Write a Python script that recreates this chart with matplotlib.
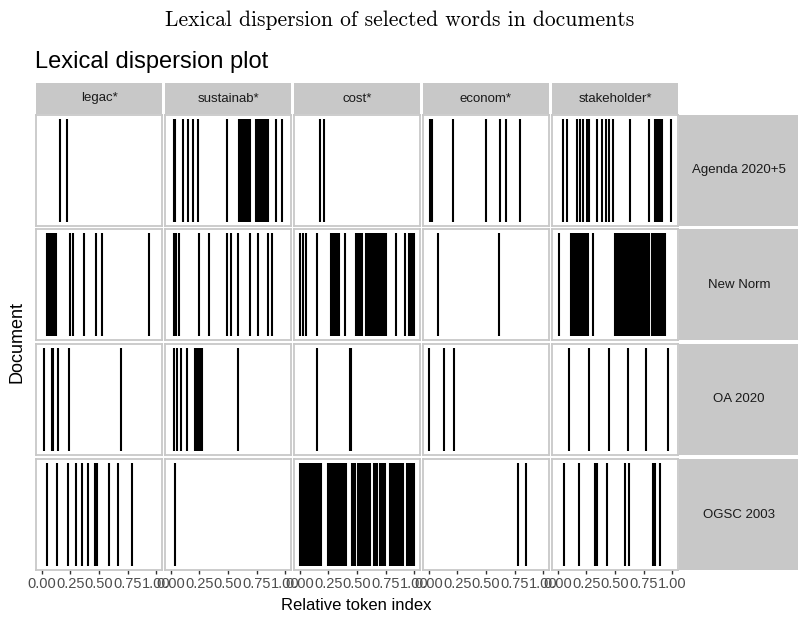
import numpy as np
import matplotlib.pyplot as plt

# words (columns) and documents (rows)
words = ['legac*', 'sustainab*', 'cost*', 'econom*', 'stakeholder*']
documents = ['Agenda 2020+5', 'New Norm', 'OA 2020', 'OGSC 2003']
tick_values = [0, 0.25, 0.5, 0.75, 1.0]
tick_labels = ['0.00', '0.25', '0.50', '0.75', '1.00']

# relative token positions, one list per word, per document
agenda = [
    [0.159, 0.223],
    [0.025, 0.04, 0.11, 0.15, 0.195, 0.235, 0.487, 0.60, 0.615, 0.63, 0.645,
     0.66, 0.675, 0.69, 0.745, 0.76, 0.775, 0.79, 0.805, 0.82, 0.835, 0.85,
     0.916, 0.974],
    [0.177, 0.212],
    [0.01, 0.03, 0.209, 0.498, 0.625, 0.672, 0.794],
    [0.043, 0.078, 0.165, 0.194, 0.217, 0.252, 0.275, 0.345, 0.383, 0.42,
     0.449, 0.484, 0.629, 0.797, 0.85, 0.865, 0.88, 0.895, 0.91, 0.991],
]
new_norm = [
    [0.05, 0.065, 0.08, 0.095, 0.11, 0.125, 0.25, 0.27, 0.368, 0.472, 0.53,
     0.936],
    [0.03, 0.05, 0.07, 0.249, 0.333, 0.487, 0.53, 0.588, 0.69, 0.762, 0.849,
     0.884],
    [0.005, 0.03, 0.055, 0.148, 0.27, 0.285, 0.30, 0.315, 0.33, 0.345, 0.394,
     0.495, 0.51, 0.525, 0.545, 0.58, 0.595, 0.61, 0.625, 0.64, 0.655, 0.67,
     0.685, 0.70, 0.72, 0.74, 0.755, 0.843, 0.916, 0.95, 0.965, 0.98, 0.995],
    [0.084, 0.614],
    [0.014, 0.115, 0.13, 0.145, 0.16, 0.175, 0.19, 0.205, 0.22, 0.235, 0.25,
     0.265, 0.31, 0.50, 0.515, 0.53, 0.545, 0.56, 0.575, 0.59, 0.605, 0.62,
     0.635, 0.65, 0.665, 0.68, 0.695, 0.71, 0.725, 0.745, 0.76, 0.78, 0.80,
     0.82, 0.84, 0.86, 0.875, 0.89, 0.905, 0.92, 0.94],
]
oa_2020 = [
    [0.02, 0.087, 0.101, 0.145, 0.24, 0.696],
    [0.031, 0.052, 0.087, 0.139, 0.21, 0.225, 0.24, 0.255, 0.27, 0.59],
    [0.153, 0.435, 0.45],
    [0.005, 0.133, 0.223],
    [0.101, 0.272, 0.446, 0.614, 0.774, 0.962],
]
ogsc_2003 = [
    [0.049, 0.13, 0.231, 0.296, 0.353, 0.40, 0.465, 0.48, 0.588, 0.666, 0.788],
    [0.04],
    [0.005, 0.015, 0.025, 0.035, 0.05, 0.06, 0.07, 0.085, 0.095, 0.11, 0.12,
     0.135, 0.15, 0.16, 0.175, 0.19, 0.25, 0.265, 0.285, 0.295, 0.31, 0.325,
     0.34, 0.355, 0.37, 0.385, 0.40, 0.455, 0.47, 0.485, 0.51, 0.525, 0.54,
     0.555, 0.57, 0.585, 0.60, 0.615, 0.645, 0.66, 0.675, 0.70, 0.715, 0.73,
     0.745, 0.785, 0.80, 0.815, 0.83, 0.845, 0.86, 0.875, 0.89, 0.905, 0.935,
     0.95, 0.965, 0.98, 0.995],
    [0.783, 0.852],
    [0.055, 0.188, 0.324, 0.344, 0.431, 0.583, 0.623, 0.831, 0.849, 0.896],
]
rows = [agenda, new_norm, oa_2020, ogsc_2003]

plt.rcParams['font.family'] = ['Liberation Sans', 'DejaVu Sans']

W, H = 798, 621
fig = plt.figure(figsize=(W / 100, H / 100), dpi=100)

strip_col = '#c8c8c8'
border_col = '#c8c8c8'


def px_axes(x0, y0, w, h):
    # pixel box (top-left origin) -> figure axes
    return fig.add_axes([x0 / W, 1 - (y0 + h) / H, w / W, h / H])


col_left = [36, 165, 294, 423, 552]
col_w = 126
row_top = [115, 229, 344, 459]
row_h = 111

# top strips
for j, word in enumerate(words):
    ax = px_axes(col_left[j], 83, col_w, 31)
    ax.set_facecolor(strip_col)
    ax.set_xticks([])
    ax.set_yticks([])
    for s in ax.spines.values():
        s.set_visible(False)
    ax.text(0.5, 0.5, word, ha='center', va='center', fontsize=9.5,
            color='#1a1a1a', transform=ax.transAxes)

# right strips
for i, doc in enumerate(documents):
    ax = px_axes(679, row_top[i], 125, row_h)
    ax.set_facecolor(strip_col)
    ax.set_xticks([])
    ax.set_yticks([])
    for s in ax.spines.values():
        s.set_visible(False)
    ax.text(0.48, 0.5, doc, ha='center', va='center', fontsize=9.5,
            color='#1a1a1a', transform=ax.transAxes)

# panels
for i in range(len(documents)):
    for j in range(len(words)):
        ax = px_axes(col_left[j], row_top[i], col_w, row_h)
        ax.vlines(rows[i][j], 0.035, 0.965, color='black', lw=1.5)
        ax.set_xlim(-0.05, 1.05)
        ax.set_ylim(0, 1)
        ax.set_yticks([])
        for s in ax.spines.values():
            s.set_color(border_col)
            s.set_linewidth(1.3)
        if i == len(documents) - 1:
            ax.set_xticks(tick_values)
            ax.set_xticklabels(tick_labels)
            ax.tick_params(axis='x', length=3, width=1, color='#333333',
                           labelsize=10.5, labelcolor='#4d4d4d', pad=2)
        else:
            ax.set_xticks([])

fig.text(400 / W, 1 - 20 / H, 'Lexical dispersion of selected words in documents',
         ha='center', va='center', fontsize=15.5, family='cmr10')
fig.text(35 / W, 1 - 62 / H, 'Lexical dispersion plot', ha='left',
         va='center', fontsize=17)
fig.text(356 / W, 1 - 606 / H, 'Relative token index', ha='center',
         va='center', fontsize=12)
fig.text(17 / W, 1 - 342 / H, 'Document', ha='center', va='center',
         fontsize=13, rotation=90)

fig.savefig('out.png', dpi=100)
